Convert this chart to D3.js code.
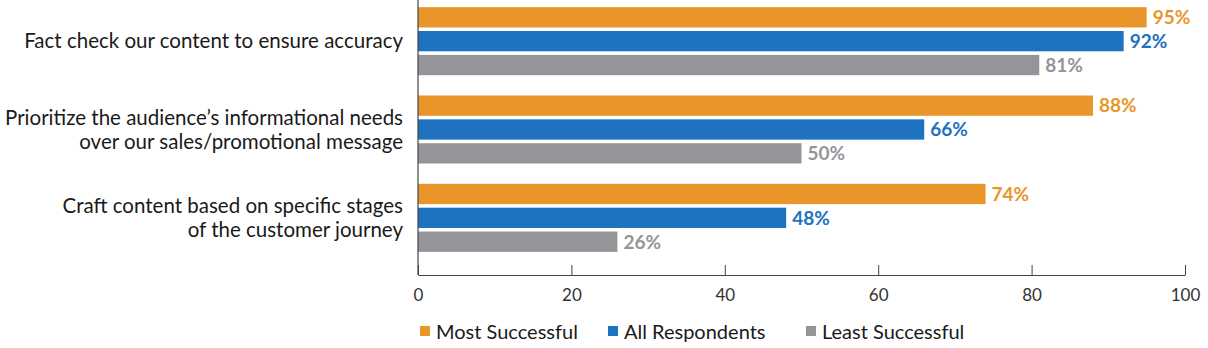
<!DOCTYPE html>
<html lang="en">
<head>
<meta charset="UTF-8" />
<title>Content practices</title>
<script src="https://d3js.org/d3.v7.min.js"></script>
<style>
  body { margin: 0; background: #fff; }
  svg text { font-family: "Lato", "Open Sans", sans-serif; }
  .cat { font-size: 20.5px; fill: #1a1a1a; }
  .tick text { font-size: 17px; fill: #333; }
  .val { font-size: 19px; font-weight: 700; }
  .legend text { font-size: 20px; fill: #1a1a1a; }
</style>
</head>
<body>
<script>
  // categories (label lines) and series values
  const categories = [
    ["Fact check our content to ensure accuracy"],
    ["Prioritize the audience\u2019s informational needs", "over our sales/promotional message"],
    ["Craft content based on specific stages", "of the customer journey"]
  ];
  const seriesNames = ["Most Successful", "All Respondents", "Least Successful"];
  const mostSuccessful = [95, 88, 74];
  const allRespondents = [92, 66, 48];
  const leastSuccessful = [81, 50, 26];
  const xTicks = [0, 20, 40, 60, 80, 100];
  const colors = ["#E9952A", "#1F72BF", "#949598"];

  const seriesValues = [mostSuccessful, allRespondents, leastSuccessful];
  const rows = categories.map((c, i) => ({
    key: c.join(" "),
    lines: c,
    values: seriesNames.map((s, j) => ({ series: s, idx: j, value: seriesValues[j][i] }))
  }));

  const width = 1208, height = 348;
  const margin = { left: 418, right: 23, top: 0, bottom: 73 };
  const plotW = width - margin.left - margin.right;
  const plotH = height - margin.top - margin.bottom;

  const svg = d3.select("body").append("svg")
    .attr("width", width)
    .attr("height", height);

  const g = svg.append("g")
    .attr("transform", `translate(${margin.left},${margin.top})`);

  const x = d3.scaleLinear().domain([0, 100]).range([0, plotW]);

  const y0 = d3.scaleBand()
    .domain(rows.map(d => d.key))
    .range([-3, 262])
    .paddingInner(0.23)
    .paddingOuter(0.115);

  const y1 = d3.scaleBand()
    .domain(seriesNames)
    .range([0, y0.bandwidth()])
    .paddingInner(0.15);

  // bars
  const groups = g.selectAll(".grp")
    .data(rows)
    .join("g")
    .attr("class", "grp")
    .attr("transform", d => `translate(0,${y0(d.key)})`);

  groups.selectAll("rect")
    .data(d => d.values)
    .join("rect")
    .attr("x", x(0))
    .attr("y", d => y1(d.series))
    .attr("width", d => x(d.value) - x(0))
    .attr("height", y1.bandwidth())
    .attr("fill", d => colors[d.idx]);

  groups.selectAll(".val")
    .data(d => d.values)
    .join("text")
    .attr("class", "val")
    .attr("x", d => x(d.value) + 6)
    .attr("y", d => y1(d.series) + y1.bandwidth() / 2)
    .attr("dy", "0.36em")
    .attr("fill", d => colors[d.idx])
    .text(d => d.value + "%");

  // category labels
  const lineH = 24;
  g.selectAll(".cat")
    .data(rows)
    .join("text")
    .attr("class", "cat")
    .attr("text-anchor", "end")
    .attr("x", -15)
    .attr("y", d => y0(d.key) + y0.bandwidth() / 2 - (d.lines.length - 1) * lineH / 2)
    .each(function (d) {
      d3.select(this).selectAll("tspan")
        .data(d.lines)
        .join("tspan")
        .attr("x", -15)
        .attr("dy", (l, i) => i === 0 ? "0.35em" : lineH)
        .text(l => l);
    });

  // x axis, ticks pointing up
  const xAxis = g.append("g")
    .attr("transform", `translate(0,${plotH})`)
    .call(d3.axisBottom(x).tickValues(xTicks).tickSizeInner(-10).tickSizeOuter(0).tickPadding(14));
  xAxis.select(".domain").attr("stroke", "#444").attr("stroke-width", 1.2);
  xAxis.selectAll(".tick line").attr("stroke", "#444");
  xAxis.selectAll(".tick text").attr("fill", "#333").attr("dy", "0.71em");

  // y axis line
  g.append("line")
    .attr("x1", 0).attr("x2", 0)
    .attr("y1", 0).attr("y2", plotH)
    .attr("stroke", "#444")
    .attr("stroke-width", 1.2);

  // legend
  const legendX = [420, 608, 806];
  const legend = svg.append("g").attr("class", "legend")
    .selectAll("g")
    .data(seriesNames)
    .join("g")
    .attr("transform", (d, i) => `translate(${legendX[i]},332)`);
  legend.append("rect")
    .attr("x", 0).attr("y", -6)
    .attr("width", 10).attr("height", 10)
    .attr("fill", (d, i) => colors[i]);
  legend.append("text")
    .attr("x", 16)
    .attr("dy", "0.35em")
    .text(d => d);
</script>
</body>
</html>
